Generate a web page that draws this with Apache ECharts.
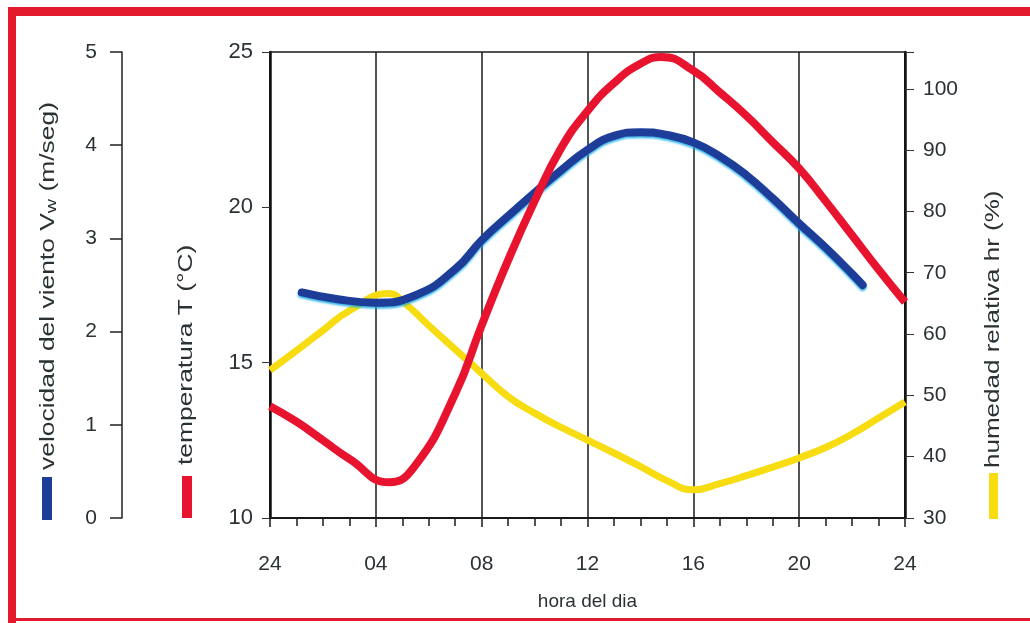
<!DOCTYPE html>
<html>
<head>
<meta charset="utf-8">
<script src="https://cdn.jsdelivr.net/npm/echarts@6/dist/echarts.min.js"></script>
<style>
  html, body { margin: 0; padding: 0; background: #fff; }
  #main { width: 1030px; height: 623px; }
</style>
</head>
<body>
<div id="main"></div>
<script>
// eje x: hora del dia (0 = 24 h)
var tickLabels = ['24', '04', '08', '12', '16', '20', '24'];

// temperatura T (°C)
var tempHoras = [0, 1, 2, 3, 4.5, 5.5, 7, 8, 9, 10, 11, 12, 13, 14, 14.8, 16, 17, 18, 19, 20, 21, 22, 23, 24];
var temperatura = [13.6, 13.1, 12.5, 11.9, 11.15, 11.7, 14.0, 16.2, 18.3, 20.2, 21.9, 23.1,
  24.0, 24.62, 24.84, 24.4, 23.7, 22.95, 22.1, 21.25, 20.2, 19.1, 18.0, 16.95];

// humedad relativa hr (%)
var humHoras = [0, 1, 2, 3, 4.5, 5.1, 6, 7, 8, 9, 10, 11, 12, 13, 14, 15, 16, 17, 18, 19, 20, 21, 22, 23, 24];
var humedad = [54.1, 57.3, 60.6, 63.8, 66.6, 65.0, 61.4, 57.5, 53.6, 49.8, 47.1, 44.8, 42.7, 40.6,
  38.4, 36.1, 34.6, 35.6, 36.9, 38.3, 39.8, 41.5, 43.7, 46.3, 48.9];

// velocidad del viento Vw (m/seg)
var vientoHoras = [1.2, 2.5, 4, 5.5, 7, 8, 9, 10, 11, 12, 13, 14, 15, 16, 17, 18, 19, 20, 21, 22, 22.4];
var viento = [2.42, 2.35, 2.31, 2.39, 2.67, 2.98, 3.24, 3.49, 3.73, 3.95, 4.1, 4.14, 4.11,
  4.03, 3.88, 3.68, 3.43, 3.16, 2.9, 2.62, 2.5];

function pares(xs, ys) {
  return xs.map(function (x, i) { return [x, ys[i]]; });
}

var font = '"Liberation Sans", Arial, sans-serif';
var txt = '#2b3235';

var myChart = echarts.init(document.getElementById('main'));
myChart.setOption({
  animation: false,
  backgroundColor: '#fff',
  textStyle: { fontFamily: font },
  grid: {
    left: 270, right: 125, top: 52, bottom: 105,
    show: true, borderColor: '#1a1a1a', borderWidth: 1.5
  },
  xAxis: {
    type: 'value',
    min: 0, max: 24, interval: 4,
    name: 'hora del dia',
    nameLocation: 'middle',
    nameGap: 74,
    nameTextStyle: { color: txt, fontSize: 19, fontFamily: font },
    axisLine: { lineStyle: { color: '#1a1a1a', width: 2 } },
    axisTick: { length: 9, lineStyle: { color: '#1a1a1a', width: 1.5 } },
    minorTick: { show: true, splitNumber: 4, length: 8, lineStyle: { color: '#1a1a1a', width: 1.5 } },
    axisLabel: {
      color: txt, fontSize: 21, margin: 36,
      formatter: function (v) { return tickLabels[v / 4]; }
    },
    splitLine: { show: true, lineStyle: { color: '#1a1a1a', width: 1.5 } }
  },
  yAxis: [{
    // temperatura
    type: 'value',
    min: 10, max: 25, interval: 5,
    position: 'left',
    axisLine: { show: true, lineStyle: { color: '#111', width: 2.5 } },
    axisTick: { show: true, length: 8, lineStyle: { color: '#333' } },
    axisLabel: { color: txt, fontSize: 22, margin: 17 },
    splitLine: { show: false }
  }, {
    // viento
    type: 'value',
    min: 0, max: 5, interval: 1,
    position: 'left',
    offset: 148,
    axisLine: { show: true, lineStyle: { color: '#222', width: 1.5 } },
    axisTick: { show: true, length: 12, lineStyle: { color: '#222', width: 1.5 } },
    axisLabel: { color: txt, fontSize: 21, margin: 25 },
    splitLine: { show: false }
  }, {
    // humedad
    type: 'value',
    min: 30, max: 106, interval: 10,
    position: 'right',
    axisLine: { show: true, lineStyle: { color: '#111', width: 2.5 } },
    axisTick: { show: true, length: 9, lineStyle: { color: '#333' } },
    axisLabel: {
      color: txt, fontSize: 21, margin: 18,
      formatter: function (v) { return v % 10 === 0 ? v : ''; }
    },
    splitLine: { show: false }
  }],
  series: [{
    name: 'humedad relativa',
    type: 'line',
    yAxisIndex: 2,
    smooth: 0.5,
    symbol: 'none',
    lineStyle: { color: '#f6dc10', width: 7 },
    data: pares(humHoras, humedad)
  }, {
    name: 'velocidad del viento',
    type: 'line',
    yAxisIndex: 1,
    smooth: 0.5,
    symbol: 'none',
    lineStyle: {
      color: '#1d3d98', width: 8, cap: 'round',
      shadowColor: 'rgba(20, 170, 230, 0.8)', shadowBlur: 2, shadowOffsetY: 2
    },
    data: pares(vientoHoras, viento)
  }, {
    name: 'temperatura',
    type: 'line',
    yAxisIndex: 0,
    smooth: 0.5,
    symbol: 'none',
    lineStyle: { color: '#e8142f', width: 8 },
    data: pares(tempHoras, temperatura)
  }],
  graphic: [
    // marco rojo
    { type: 'rect', shape: { x: 8, y: 7, width: 1022, height: 9 }, style: { fill: '#e3192e' }, silent: true },
    { type: 'rect', shape: { x: 8, y: 7, width: 8, height: 616 }, style: { fill: '#e3192e' }, silent: true },
    { type: 'rect', shape: { x: 8, y: 618, width: 1022, height: 3 }, style: { fill: '#e3192e' }, silent: true },
    // nombres de los ejes
    {
      type: 'text', x: 48, y: 470, rotation: Math.PI / 2, scaleX: 1.32,
      style: {
        text: 'velocidad del viento V{s|w} (m/seg)',
        fill: txt, font: '20px ' + font, align: 'left', verticalAlign: 'middle',
        rich: { s: { fontSize: 15, fill: txt, padding: [8, 0, 0, 0] } }
      }
    },
    { type: 'rect', shape: { x: 42, y: 477, width: 10, height: 43 }, style: { fill: '#1d3d98' } },
    {
      type: 'text', x: 186, y: 465, rotation: Math.PI / 2, scaleX: 1.32,
      style: {
        text: 'temperatura T (°C)',
        fill: txt, font: '20px ' + font, align: 'left', verticalAlign: 'middle'
      }
    },
    { type: 'rect', shape: { x: 182, y: 476, width: 10, height: 42 }, style: { fill: '#e8142f' } },
    {
      type: 'text', x: 993, y: 468, rotation: Math.PI / 2, scaleX: 1.3,
      style: {
        text: 'humedad relativa hr (%)',
        fill: txt, font: '20px ' + font, align: 'left', verticalAlign: 'middle'
      }
    },
    { type: 'rect', shape: { x: 989, y: 473, width: 9, height: 46 }, style: { fill: '#f6dc10' } }
  ]
});
</script>
</body>
</html>
